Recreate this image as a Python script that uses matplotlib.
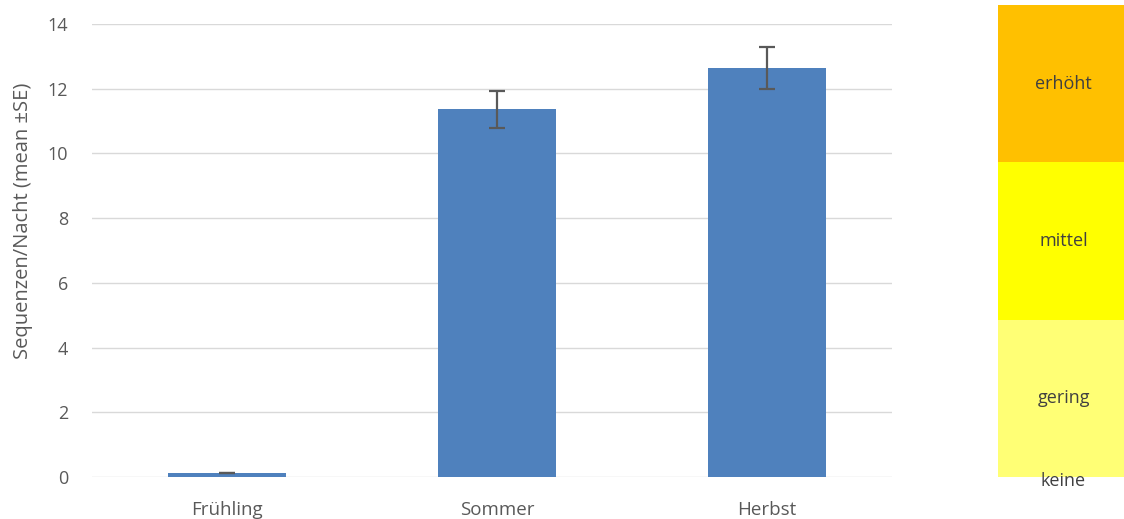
import matplotlib.pyplot as plt
import numpy as np

plt.rcParams['font.family'] = ['Open Sans', 'DejaVu Sans']

# Daten
seasons = ['Frühling', 'Sommer', 'Herbst']
means = [0.12, 11.36, 12.64]
se = [0.01, 0.57, 0.64]

levels = ['gering', 'mittel', 'erhöht']
level_colors = ['#FFFF75', '#FFFF00', '#FFC000']

fig = plt.figure(figsize=(11.24, 5.19), dpi=100)

# Balkendiagramm
ax = fig.add_axes([92 / 1124, 1 - 477 / 519, 800 / 1124, 453 / 519])
x = np.arange(len(seasons))
ax.bar(x, means, width=0.437, color='#4F81BD', zorder=2)
ax.errorbar(x, means, yerr=se, fmt='none', ecolor='#595959', elinewidth=1.6,
            capsize=6, capthick=1.6, zorder=3)
ax.set_xlim(-0.5, 2.463)
ax.set_ylim(0, 14)
ax.set_yticks(range(0, 15, 2))
ax.set_xticks(x)
ax.set_xticklabels(seasons)
ax.yaxis.grid(True, color='#D9D9D9', linewidth=1, zorder=0)
for s in ax.spines.values():
    s.set_visible(False)
ax.tick_params(axis='y', length=0, labelsize=13, colors='#595959', pad=17)
ax.tick_params(axis='x', length=0, labelsize=13.5, colors='#595959', pad=17)
ax.set_ylabel('Sequenzen/Nacht (mean ±SE)', fontsize=14.5, color='#595959')
ax.yaxis.set_label_coords(-0.074, 0.565)

# Farbskala rechts
ax2 = fig.add_axes([998 / 1124, 1 - 477 / 519, 126 / 1124, 472 / 519])
for i, (lab, c) in enumerate(zip(levels, level_colors)):
    ax2.bar(0.5, 1, bottom=i, width=1, color=c)
    ax2.text(0.52, i + 0.5, lab, ha='center', va='center', fontsize=13, color='#404040')
ax2.text(0.52, -0.025, 'keine', ha='center', va='center', fontsize=13, color='#404040')
ax2.set_xlim(0, 1)
ax2.set_ylim(0, 3)
ax2.axis('off')

fig.savefig('out.png', dpi=100)
